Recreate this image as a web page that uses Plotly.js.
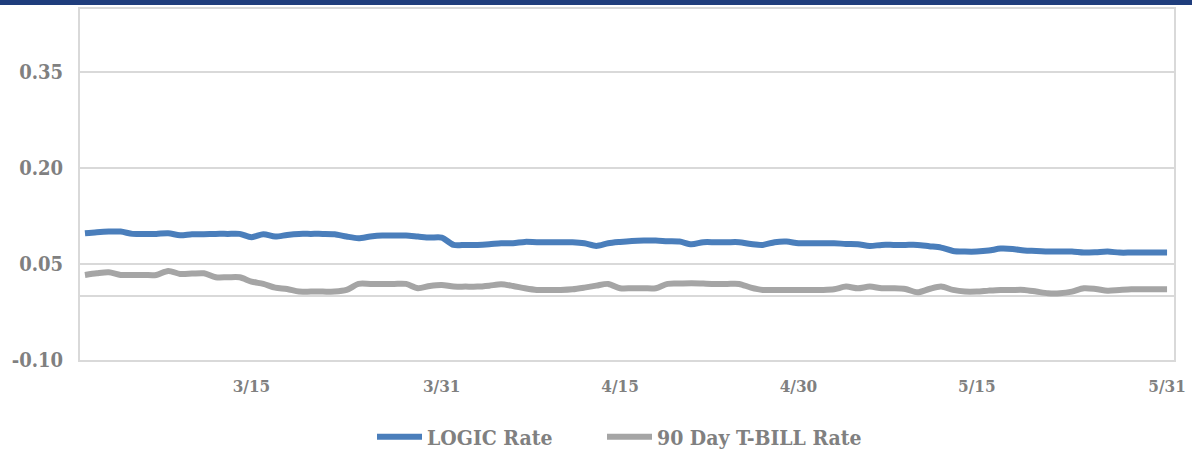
<!DOCTYPE html>
<html>
<head>
<meta charset="utf-8">
<script src="https://cdn.plot.ly/plotly-3.0.1.min.js"></script>
<style>
html,body{margin:0;padding:0;background:#fff;}
#chart{width:1192px;height:449px;}
</style>
</head>
<body>
<div id="chart"></div>
<script>
// Daily observations 2021-03-01 .. 2021-05-31
var startDate = '2021-03-01';
var logicRate = [
0.0979,0.0995,0.1005,0.1005,0.0969,0.0969,0.0969,0.0979,0.0948,0.0964,
0.0964,0.0969,0.0969,0.0969,0.0917,0.0964,0.0927,0.0953,0.0969,0.0969,
0.0969,0.0964,0.0927,0.0901,0.0927,0.0943,0.0943,0.0943,0.0927,0.0911,
0.0911,0.0797,0.0797,0.0797,0.0807,0.0823,0.0823,0.0844,0.0839,0.0839,
0.0839,0.0839,0.0823,0.0781,0.0823,0.0844,0.0859,0.0865,0.0865,0.0854,
0.0849,0.0807,0.0839,0.0839,0.0839,0.0839,0.0812,0.0797,0.0839,0.0849,
0.0823,0.0823,0.0823,0.0823,0.0812,0.0807,0.0781,0.0797,0.0797,0.0797,
0.0797,0.0776,0.0755,0.0703,0.0693,0.0693,0.0708,0.0740,0.0734,0.0708,
0.0703,0.0693,0.0693,0.0693,0.0677,0.0682,0.0693,0.0677,0.0677,0.0677,
0.0677,0.0677
];
var tbillRate = [
0.0328,0.0354,0.0370,0.0328,0.0328,0.0328,0.0328,0.0391,0.0344,0.0349,
0.0354,0.0292,0.0292,0.0292,0.0224,0.0188,0.0130,0.0109,0.0068,0.0068,
0.0068,0.0068,0.0094,0.0188,0.0188,0.0188,0.0188,0.0188,0.0120,0.0156,
0.0172,0.0146,0.0146,0.0146,0.0161,0.0182,0.0156,0.0120,0.0094,0.0094,
0.0094,0.0104,0.0130,0.0161,0.0188,0.0120,0.0120,0.0120,0.0120,0.0188,
0.0193,0.0198,0.0193,0.0188,0.0188,0.0188,0.0130,0.0094,0.0094,0.0094,
0.0094,0.0094,0.0094,0.0104,0.0146,0.0120,0.0146,0.0120,0.0120,0.0109,
0.0057,0.0109,0.0146,0.0094,0.0068,0.0068,0.0083,0.0094,0.0094,0.0094,
0.0068,0.0042,0.0042,0.0068,0.0120,0.0109,0.0083,0.0094,0.0104,0.0104,
0.0104,0.0104
];
var seriesNames = ['LOGIC Rate', '90 Day T-BILL Rate'];
var xTickDates = ['2021-03-15','2021-03-31','2021-04-15','2021-04-30','2021-05-15','2021-05-31'];
var xTickLabels = ['3/15','3/31','4/15','4/30','5/15','5/31'];
var yTickVals = [-0.10, 0.05, 0.20, 0.35];
var yTickLabels = ['-0.10','0.05','0.20','0.35'];

var dates = [];
(function(){
  var d0 = new Date(startDate + 'T00:00:00Z');
  for (var i = 0; i < logicRate.length; i++) {
    var d = new Date(d0.getTime() + i*86400000);
    dates.push(d.toISOString().slice(0,10));
  }
})();

var FAM = '"DejaVu Serif Condensed", "DejaVu Serif", serif';
var GREY = '#808080';

var traces = [
  {x: dates, y: logicRate, name: seriesNames[0], type: 'scatter', mode: 'lines', legend: 'legend',
   line: {color: '#4a7ebb', width: 6, shape: 'spline', smoothing: 0.8}},
  {x: dates, y: tbillRate, name: seriesNames[1], type: 'scatter', mode: 'lines', legend: 'legend2',
   line: {color: '#a5a5a5', width: 6, shape: 'spline', smoothing: 0.8}}
];

var legFont = {family: FAM, size: 21, color: GREY, weight: 'bold'};
var PW = 1094, PH = 351;

var layout = {
  width: 1192, height: 449,
  margin: {l: 80, r: 18, t: 9, b: 89, pad: 0, autoexpand: false},
  paper_bgcolor: '#ffffff', plot_bgcolor: '#ffffff',
  font: {family: FAM, size: 18, color: GREY, weight: 'bold'},
  showlegend: true,
  legend: {orientation: 'h', x: (372-80)/PW, xanchor: 'left', y: (360-437)/PH, yanchor: 'middle',
           font: legFont, itemwidth: 45, bgcolor: 'rgba(0,0,0,0)'},
  legend2: {orientation: 'h', x: (602-80)/PW, xanchor: 'left', y: (360-437)/PH, yanchor: 'middle',
           font: legFont, itemwidth: 45, bgcolor: 'rgba(0,0,0,0)'},
  xaxis: {type: 'date', range: ['2021-02-28 14:00', '2021-05-31 14:00'],
          tickvals: xTickDates, ticktext: xTickLabels, showgrid: false, zeroline: false,
          showline: true, mirror: true, linecolor: '#d9d9d9', linewidth: 2,
          ticks: '', ticklabelstandoff: 10,
          tickfont: {family: FAM, size: 17, color: GREY, weight: 'bold'},
          fixedrange: true},
  yaxis: {range: [-0.10, 0.448], tickvals: yTickVals, ticktext: yTickLabels,
          showgrid: true, gridcolor: '#d9d9d9', gridwidth: 1.5,
          zeroline: true, zerolinecolor: '#d9d9d9', zerolinewidth: 1.5,
          showline: true, mirror: true, linecolor: '#d9d9d9', linewidth: 2,
          ticks: '', ticklabelstandoff: 11,
          tickfont: {family: FAM, size: 20, color: GREY, weight: 'bold'},
          fixedrange: true},
  shapes: [
    {type: 'rect', xref: 'paper', yref: 'paper', x0: -0.08, x1: 1.02, y0: (360-5)/PH, y1: 1.03,
     fillcolor: '#1f3d7c', line: {width: 0}, layer: 'above'}
  ]
};

Plotly.newPlot('chart', traces, layout, {displayModeBar: false, staticPlot: true});
</script>
</body>
</html>
